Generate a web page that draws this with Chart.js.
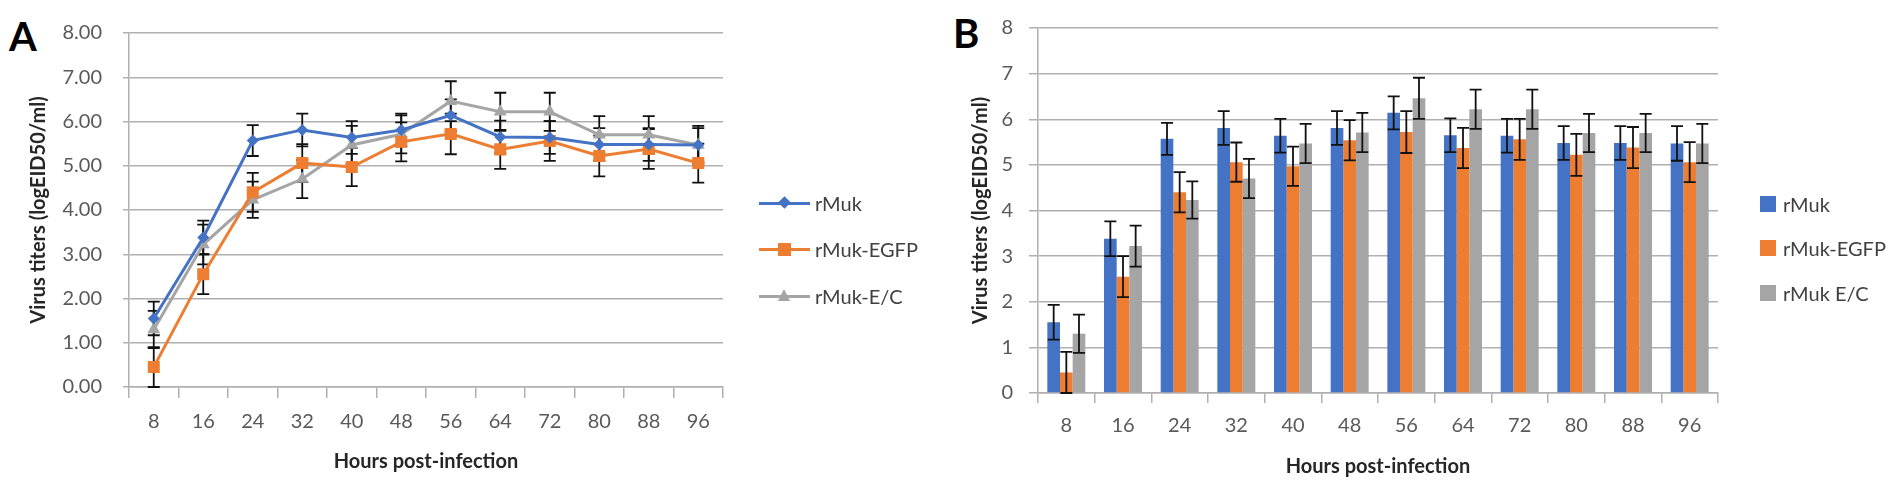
<!DOCTYPE html>
<html>
<head>
<meta charset="utf-8">
<script src="https://cdn.jsdelivr.net/npm/chart.js@4.4.1/dist/chart.umd.min.js"></script>
<style>
    body { margin: 0; background: #fff; font-family: Lato, sans-serif; }
    #page { position: relative; width: 1902px; height: 481px; overflow: hidden; }
    canvas { position: absolute; top: 0; }
    .panel-tag { position: absolute; font: bold 40px/40px Lato, sans-serif; color: #000; }
    .legend { position: absolute; font: 20px Lato, sans-serif; color: #404040; }
    .legend-item { position: absolute; left: 0; height: 24px; white-space: nowrap; }
    .legend-item span { position: absolute; top: 0; line-height: 24px; }
</style>
</head>
<body>
<div id="page">
    <div class="panel-tag" style="left:9px; top:16px;">A</div>
    <canvas id="lineChart" width="940" height="481" style="left:0;"></canvas>
    <div class="legend" id="legendA" style="left:759px; top:0;"></div>

    <div class="panel-tag" style="left:953px; top:13px;">B</div>
    <canvas id="barChart" width="962" height="481" style="left:940px;"></canvas>
    <div class="legend" id="legendB" style="left:1760px; top:0;"></div>
</div>

<script>
// Hours post-infection
const hours = ['8', '16', '24', '32', '40', '48', '56', '64', '72', '80', '88', '96'];

// Virus titers (logEID50/ml)
const rMuk     = [1.55, 3.38, 5.57, 5.81, 5.64, 5.81, 6.14, 5.65, 5.64, 5.48, 5.48, 5.47];
const rMukEgfp = [0.45, 2.55, 4.40, 5.06, 4.97, 5.54, 5.72, 5.37, 5.56, 5.22, 5.38, 5.06];
const rMukEc   = [1.30, 3.22, 4.23, 4.70, 5.47, 5.71, 6.46, 6.22, 6.22, 5.70, 5.70, 5.47];

// error bars (+/-)
const errMuk  = [0.38, 0.38, 0.35, 0.37, 0.37, 0.37, 0.36, 0.37, 0.37, 0.37, 0.37, 0.38];
const errEgfp = [0.45, 0.45, 0.44, 0.43, 0.43, 0.44, 0.46, 0.44, 0.45, 0.46, 0.45, 0.44];
const errEc   = [0.42, 0.45, 0.41, 0.43, 0.43, 0.43, 0.45, 0.43, 0.43, 0.42, 0.42, 0.43];

const yTicks = [0, 1, 2, 3, 4, 5, 6, 7, 8];

const BLUE = '#4472C4';
const ORANGE = '#ED7D31';
const GRAY = '#A5A5A5';
const GRID = '#b0b0b0';

Chart.defaults.font.family = 'Lato, sans-serif';
Chart.defaults.font.size = 20;
Chart.defaults.color = '#595959';

// draws the +/- error bars from dataset.errors
const errorBars = {
    id: 'errorBars',
    beforeDatasetsDraw(chart, args, opts) {
        if (opts.under) drawErrors(chart);
    },
    afterDatasetsDraw(chart, args, opts) {
        if (!opts.under) drawErrors(chart);
    }
};

function drawErrors(chart) {
    const ctx = chart.ctx;
    const yScale = chart.scales.y;
    ctx.save();
    ctx.strokeStyle = '#111';
    ctx.lineWidth = 1.8;
    chart.data.datasets.forEach((ds, i) => {
        const meta = chart.getDatasetMeta(i);
        meta.data.forEach((el, j) => {
            const v = ds.data[j];
            const e = ds.errors[j];
            const x = el.x;
            const top = yScale.getPixelForValue(v + e);
            const bot = yScale.getPixelForValue(Math.max(0, v - e));
            ctx.beginPath();
            ctx.moveTo(x, top); ctx.lineTo(x, bot);
            ctx.moveTo(x - 6, top); ctx.lineTo(x + 6, top);
            ctx.moveTo(x - 6, bot); ctx.lineTo(x + 6, bot);
            ctx.stroke();
        });
    });
    ctx.restore();
}

function axisTitle(text, padding) {
    return { display: true, text: text, color: '#262626', font: { size: 20, weight: 'bold' }, padding: padding };
}

// Panel A - line chart
const lineChart = new Chart(document.getElementById('lineChart').getContext('2d'), {
    type: 'line',
    data: {
        labels: hours,
        datasets: [
            { label: 'rMuk', data: rMuk, errors: errMuk, borderColor: BLUE, backgroundColor: BLUE,
              pointStyle: 'rectRot', pointRadius: 6, borderWidth: 3, pointBorderWidth: 0 },
            { label: 'rMuk-EGFP', data: rMukEgfp, errors: errEgfp, borderColor: ORANGE, backgroundColor: ORANGE,
              pointStyle: 'rect', pointRadius: 8.5, borderWidth: 3, pointBorderWidth: 0 },
            { label: 'rMuk-E/C', data: rMukEc, errors: errEc, borderColor: GRAY, backgroundColor: GRAY,
              pointStyle: 'triangle', pointRadius: 7.5, borderWidth: 3, pointBorderWidth: 0 }
        ]
    },
    options: {
        responsive: false,
        animation: false,
        layout: { padding: { top: 19, right: 217, bottom: 0, left: 0 } },
        plugins: {
            legend: { display: false },
            tooltip: { enabled: false },
            errorBars: { under: true }
        },
        scales: {
            y: {
                min: 0,
                max: 8,
                afterBuildTicks: s => { s.ticks = yTicks.map(v => ({ value: v })); },
                afterFit: s => { s.width = 129; },
                ticks: { padding: 21, callback: v => Number(v).toFixed(2) },
                grid: { color: GRID, lineWidth: 1.5, tickLength: 6 },
                border: { color: GRID, width: 1.5 },
                title: axisTitle('Virus titers (logEID50/ml)', { top: 27, bottom: 0 })
            },
            x: {
                offset: true,
                afterFit: s => { s.height = 94; },
                ticks: { padding: 12, maxRotation: 0 },
                grid: { offset: true, drawOnChartArea: false, color: GRID, lineWidth: 1.5, tickLength: 11 },
                border: { color: GRID, width: 1.5 },
                title: axisTitle('Hours post-infection', { top: 0, bottom: 7 })
            }
        }
    },
    plugins: [errorBars]
});

// Panel B - bar chart
const barChart = new Chart(document.getElementById('barChart').getContext('2d'), {
    type: 'bar',
    data: {
        labels: hours,
        datasets: [
            { label: 'rMuk', data: rMuk, errors: errMuk, backgroundColor: BLUE },
            { label: 'rMuk-EGFP', data: rMukEgfp, errors: errEgfp, backgroundColor: ORANGE },
            { label: 'rMuk E/C', data: rMukEc, errors: errEc, backgroundColor: GRAY }
        ]
    },
    options: {
        responsive: false,
        animation: false,
        categoryPercentage: 0.67,
        barPercentage: 1.0,
        layout: { padding: { top: 14, right: 184, bottom: 0, left: 0 } },
        plugins: {
            legend: { display: false },
            tooltip: { enabled: false },
            errorBars: { under: false }
        },
        scales: {
            y: {
                min: 0,
                max: 8,
                afterBuildTicks: s => { s.ticks = yTicks.map(v => ({ value: v })); },
                afterFit: s => { s.width = 98; },
                ticks: { padding: 16 },
                grid: { color: GRID, lineWidth: 1.5, tickLength: 9 },
                border: { color: GRID, width: 1.5 },
                title: axisTitle('Virus titers (logEID50/ml)', { top: 29, bottom: 0 })
            },
            x: {
                afterFit: s => { s.height = 88; },
                ticks: { padding: 11, maxRotation: 0 },
                grid: { offset: true, drawOnChartArea: false, color: GRID, lineWidth: 1.5, tickLength: 10 },
                border: { color: GRID, width: 1.5 },
                title: axisTitle('Hours post-infection', { top: 0, bottom: 2 })
            }
        }
    },
    plugins: [errorBars]
});

// HTML legends built from the chart datasets
function markerHtml(ds) {
    const c = ds.backgroundColor;
    if (ds.pointStyle === 'rectRot') {
        return `<div style="position:absolute;left:21px;top:7px;width:9px;height:9px;background:${c};transform:rotate(45deg)"></div>`;
    }
    if (ds.pointStyle === 'rect') {
        return `<div style="position:absolute;left:19px;top:6px;width:13px;height:13px;background:${c}"></div>`;
    }
    return `<div style="position:absolute;left:19px;top:5px;width:0;height:0;border-left:6.5px solid transparent;border-right:6.5px solid transparent;border-bottom:12px solid ${c}"></div>`;
}

const legendRowsA = [203, 249, 296];
document.getElementById('legendA').innerHTML = lineChart.data.datasets.map((ds, i) =>
    `<div class="legend-item" style="top:${legendRowsA[i] - 12}px">
        <div style="position:absolute;left:0;top:11px;width:51px;height:3px;background:${ds.borderColor}"></div>
        ${markerHtml(ds)}
        <span style="left:56px">${ds.label}</span>
    </div>`).join('');

const legendRowsB = [204, 248, 293];
document.getElementById('legendB').innerHTML = barChart.data.datasets.map((ds, i) =>
    `<div class="legend-item" style="top:${legendRowsB[i] - 12}px">
        <div style="position:absolute;left:0;top:4px;width:16px;height:16px;background:${ds.backgroundColor}"></div>
        <span style="left:23px">${ds.label}</span>
    </div>`).join('');
</script>
</body>
</html>
